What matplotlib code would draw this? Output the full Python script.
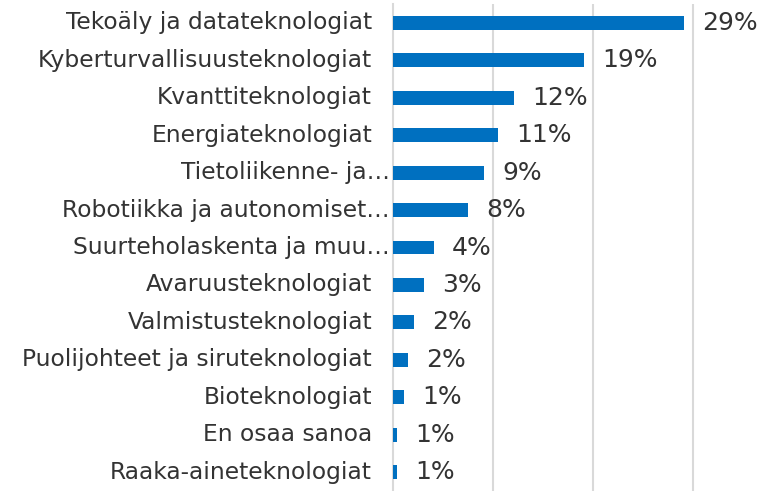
import matplotlib
matplotlib.use("Agg")
import matplotlib.pyplot as plt

# kategoriat ylhäältä alas
categories = [
    "Tekoäly ja datateknologiat",
    "Kyberturvallisuusteknologiat",
    "Kvanttiteknologiat",
    "Energiateknologiat",
    "Tietoliikenne- ja…",
    "Robotiikka ja autonomiset…",
    "Suurteholaskenta ja muu…",
    "Avaruusteknologiat",
    "Valmistusteknologiat",
    "Puolijohteet ja siruteknologiat",
    "Bioteknologiat",
    "En osaa sanoa",
    "Raaka-aineteknologiat",
]
# pylväiden pituudet (%), luettu kuvasta
values = [29.1, 19.1, 12.1, 10.5, 9.1, 7.5, 4.1, 3.1, 2.1, 1.5, 1.1, 0.4, 0.4]
# näytetyt arvot
value_labels = ["29%", "19%", "12%", "11%", "9%", "8%", "4%", "3%", "2%", "2%", "1%", "1%", "1%"]
truncated = [False, False, False, False, True, True, True, False, False, False, False, False, False]

BLUE = "#0070C0"
TEXT = "#333333"
GRID = "#D9D9D9"

fig = plt.figure(figsize=(7.61, 4.91), dpi=100)
ax = fig.add_axes([393 / 761, 0.0, 1 - 393 / 761, 1 - 4 / 491])

y = list(range(len(categories)))
ax.barh(y, values, height=0.37, color=BLUE, zorder=3)

ax.set_xlim(0, 36.8)
ax.set_ylim(len(categories) - 0.5, -0.5)

ax.set_xticks([10, 20, 30])
ax.xaxis.grid(True, color=GRID, linewidth=1.5, zorder=0)
ax.tick_params(left=False, bottom=False, labelbottom=False, labelleft=False)
for s in ["top", "right", "bottom"]:
    ax.spines[s].set_visible(False)
ax.spines["left"].set_color(GRID)
ax.spines["left"].set_linewidth(1.5)

for i, (cat, v, lab, tr) in enumerate(zip(categories, values, value_labels, truncated)):
    pad = -3 if tr else -21
    ax.annotate(cat, xy=(0, i), xytext=(pad, 0), textcoords="offset pixels",
                ha="right", va="center", fontsize=16.8, color=TEXT)
    ax.annotate(lab, xy=(v, i), xytext=(18, 0), textcoords="offset pixels",
                ha="left", va="center", fontsize=18, color=TEXT)

fig.savefig("out.png", dpi=100)
